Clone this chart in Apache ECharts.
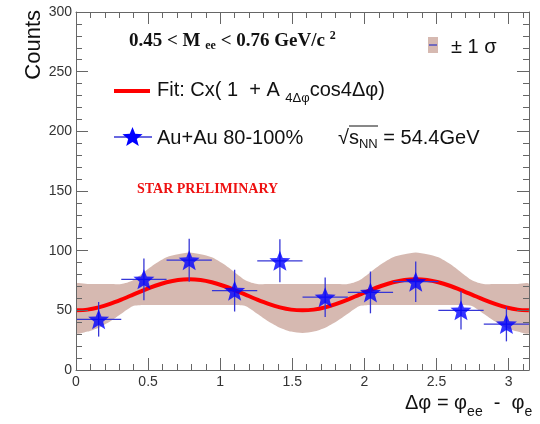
<!DOCTYPE html>
<html>
<head>
<meta charset="utf-8">
<script src="https://cdn.jsdelivr.net/npm/echarts@6/dist/echarts.min.js"></script>
<style>
  html, body { margin: 0; padding: 0; background: #fff; }
  #chart { width: 540px; height: 424px; }
</style>
</head>
<body>
<div id="chart"></div>
<script>
// fit curve and +-1 sigma band at steps of pi/40
const phiSamples = [0, 0.079, 0.157, 0.236, 0.314, 0.393, 0.471, 0.550, 0.628, 0.707, 0.785,
  0.864, 0.942, 1.021, 1.100, 1.178, 1.257, 1.335, 1.414, 1.492, 1.571,
  1.649, 1.728, 1.806, 1.885, 1.963, 2.042, 2.121, 2.199, 2.278, 2.356,
  2.435, 2.513, 2.592, 2.670, 2.749, 2.827, 2.906, 2.985, 3.063, 3.141]
const fitValues = [50, 50.6, 52.5, 55.4, 59, 63, 67, 70.6, 73.5, 75.4, 76,
  75.4, 73.5, 70.6, 67, 63, 59, 55.4, 52.5, 50.6, 50,
  50.6, 52.5, 55.4, 59, 63, 67, 70.6, 73.5, 75.4, 76,
  75.4, 73.5, 70.6, 67, 63, 59, 55.4, 52.5, 50.6, 50]
const bandUpper = [72, 72, 72, 72, 72, 75, 82, 89, 94.5, 97, 98.5,
  97, 94.5, 89, 82, 75, 72, 72, 72, 72, 72,
  72, 72, 72, 72, 75, 82, 89, 94.5, 97, 98.5,
  97, 94.5, 89, 82, 75, 72, 72, 72, 72, 72]
const bandLower = [31, 32.2, 35.5, 40.7, 47.2, 53.5, 54.5, 54.5, 54.5, 54.5, 54.5,
  54.5, 54.5, 54.5, 54.5, 53.5, 47.2, 40.7, 35.5, 32.2, 31,
  32.2, 35.5, 40.7, 47.2, 53.5, 54.5, 54.5, 54.5, 54.5, 54.5,
  54.5, 54.5, 54.5, 54.5, 53.5, 47.2, 40.7, 35.5, 32.2, 31]

// Au+Au 80-100% points
const binCenters = [0.157, 0.471, 0.785, 1.100, 1.414, 1.728, 2.042, 2.356, 2.670, 2.985]
const counts = [42.5, 76, 92, 66.5, 91.5, 61, 65, 74, 50, 38.5]
const countErr = [14.5, 17.5, 18, 17.5, 18, 16.5, 17.5, 17, 16, 14.5]
const binHalfWidth = [0.157, 0.157, 0.157, 0.157, 0.157, 0.157, 0.157, 0.157, 0.157, 0.157]

const xMax = 3.1416
const yMin = 0, yMax = 300, yStep = 50

const axisCol = '#666'
const labelCol = '#333'
const bandCol = '#d6b9b1'
const starPts = [[50, 0], [63, 32.5], [98, 34], [70.5, 57], [80, 91], [50, 72],
  [20, 91], [29.5, 57], [2, 34], [37, 32.5]]
const starPath = 'path://M' + starPts.map(p => p.join(' ')).join(' L') + ' Z'
const sans = 'Liberation Sans'
const serif = 'Liberation Serif'

const chart = echarts.init(document.getElementById('chart'))

const xAxisBase = (pos, interval, len, labels) => ({
  type: 'value', min: 0, max: xMax, interval, position: pos,
  axisLine: { show: len > 8, onZero: false, lineStyle: { color: axisCol, width: 1 } },
  axisTick: { inside: true, length: len, lineStyle: { color: axisCol } },
  axisLabel: labels ? {
    color: labelCol, fontSize: 14, fontFamily: sans, margin: 5, showMaxLabel: false,
    formatter: v => (Math.abs(v * 2 - Math.round(v * 2)) < 1e-6 ? String(v) : '')
  } : { show: false },
  splitLine: { show: false },
  z: 5
})

const yAxisBase = (pos, labels) => ({
  type: 'value', min: yMin, max: yMax, interval: yStep, position: pos,
  axisLine: { show: true, onZero: false, lineStyle: { color: axisCol, width: 1 } },
  axisTick: { inside: true, length: 12, lineStyle: { color: axisCol } },
  minorTick: { show: true, splitNumber: 5, length: 6, lineStyle: { color: axisCol } },
  axisLabel: labels ? { color: labelCol, fontSize: 14, fontFamily: sans, margin: 4 } : { show: false },
  splitLine: { show: false },
  minorSplitLine: { show: false },
  z: 5
})

const zip = (xs, ys) => xs.map((x, i) => [x, ys[i]])

// band: closed polygon, upper edge left->right then lower edge right->left
const bandPoly = zip(phiSamples, bandUpper).concat(zip(phiSamples, bandLower).reverse())

const option = {
  animation: false,
  backgroundColor: '#fff',
  grid: { left: 76, right: 11, top: 12, bottom: 54 },
  xAxis: [
    xAxisBase('bottom', 0.5, 12, true),
    xAxisBase('bottom', 0.1, 6, false),
    xAxisBase('top', 0.5, 12, false),
    xAxisBase('top', 0.1, 6, false)
  ],
  yAxis: [yAxisBase('left', true), yAxisBase('right', false)],
  series: [
    {
      type: 'custom',
      data: bandPoly,
      encode: { x: 0, y: 1 },
      renderItem: (params, api) => {
        if (params.dataIndex !== 0) return null
        const pts = bandPoly.map(p => api.coord(p))
        return {
          type: 'polygon',
          shape: { points: pts, smooth: 0.25 },
          style: { fill: bandCol }
        }
      },
      clip: true,
      z: 1
    },
    {
      type: 'line', data: zip(phiSamples, fitValues), symbol: 'none', smooth: 0.3,
      lineStyle: { color: '#ff0000', width: 4 }, z: 2
    },
    {
      type: 'custom',
      data: binCenters.map((x, i) => [x, counts[i], countErr[i], binHalfWidth[i]]),
      encode: { x: 0, y: 1 },
      renderItem: (params, api) => {
        const x = api.value(0), y = api.value(1), e = api.value(2), w = api.value(3)
        const l = api.coord([x - w, y]), r = api.coord([x + w, y])
        const t = api.coord([x, y + e]), b = api.coord([x, y - e])
        const style = { stroke: '#3636d6', lineWidth: 1.3 }
        return {
          type: 'group',
          children: [
            { type: 'line', shape: { x1: l[0], y1: l[1], x2: r[0], y2: r[1] }, style },
            { type: 'line', shape: { x1: t[0], y1: t[1], x2: b[0], y2: b[1] }, style }
          ]
        }
      },
      z: 3
    },
    {
      type: 'scatter', data: zip(binCenters, counts),
      symbol: starPath, symbolSize: [21, 20],
      itemStyle: { color: '#0000ff' }, z: 4
    }
  ],
  graphic: [
    {
      type: 'text', x: 34, y: 10, rotation: Math.PI / 2,
      style: { text: 'Counts', font: `22px "${sans}"`, fill: '#111', align: 'right', verticalAlign: 'middle' }
    },
    {
      type: 'text', x: 129, y: 41,
      style: {
        text: '{m|0.45 < M }{s|ee}{m| < 0.76 GeV/c }{p|2}',
        verticalAlign: 'middle',
        rich: {
          m: { font: `bold 19px "${serif}"`, fill: '#111' },
          s: { font: `bold 12px "${serif}"`, fill: '#111', padding: [10, 0, 0, 0] },
          p: { font: `bold 12px "${serif}"`, fill: '#111', padding: [0, 0, 10, 0] }
        }
      }
    },
    { type: 'rect', shape: { x: 428, y: 37, width: 10, height: 16 }, style: { fill: bandCol } },
    { type: 'line', shape: { x1: 429, y1: 45, x2: 437, y2: 45 }, style: { stroke: '#5050c0', lineWidth: 1.5 } },
    {
      type: 'text', x: 451, y: 47,
      style: { text: '± 1 σ', font: `20px "${sans}"`, fill: '#111', verticalAlign: 'middle' }
    },
    { type: 'line', shape: { x1: 114, y1: 91, x2: 150, y2: 91 }, style: { stroke: '#ff0000', lineWidth: 4 } },
    {
      type: 'text', x: 157, y: 90,
      style: {
        text: '{m|Fit: Cx( 1  + A }{s|4Δφ}{m|cos4Δφ)}',
        verticalAlign: 'middle',
        rich: {
          m: { font: `20px "${sans}"`, fill: '#111' },
          s: { font: `13px "${sans}"`, fill: '#111', padding: [16, 0, 0, 0] }
        }
      }
    },
    { type: 'line', shape: { x1: 114, y1: 137, x2: 152, y2: 137 }, style: { stroke: '#3636d6', lineWidth: 1.3 } },
    {
      type: 'polygon', x: 122, y: 127, scaleX: 0.21, scaleY: 0.21,
      shape: { points: starPts }, style: { fill: '#0000ff' }
    },
    {
      type: 'text', x: 157, y: 138,
      style: { text: 'Au+Au 80-100%', font: `20px "${sans}"`, fill: '#111', verticalAlign: 'middle' }
    },
    {
      type: 'text', x: 338, y: 138,
      style: {
        text: '{m|√s}{s|NN}{m| = 54.4GeV}',
        verticalAlign: 'middle',
        rich: {
          m: { font: `20px "${sans}"`, fill: '#111' },
          s: { font: `13px "${sans}"`, fill: '#111', padding: [12, 0, 0, 0] }
        }
      }
    },
    { type: 'line', shape: { x1: 349, y1: 126, x2: 378, y2: 126 }, style: { stroke: '#111', lineWidth: 1 } },
    {
      type: 'text', x: 137, y: 189,
      style: { text: 'STAR PRELIMINARY', font: `bold 14px "${serif}"`, fill: '#ee1111', verticalAlign: 'middle' }
    },
    {
      type: 'text', x: 405, y: 403,
      style: {
        text: '{m|Δφ = φ}{s|ee}{m|  -  φ}{s|e}',
        verticalAlign: 'middle',
        rich: {
          m: { font: `20px "${sans}"`, fill: '#111' },
          s: { font: `14px "${sans}"`, fill: '#111', padding: [18, 0, 0, 0] }
        }
      }
    }
  ]
}

chart.setOption(option)
window.addEventListener('resize', () => chart.resize())
</script>
</body>
</html>
